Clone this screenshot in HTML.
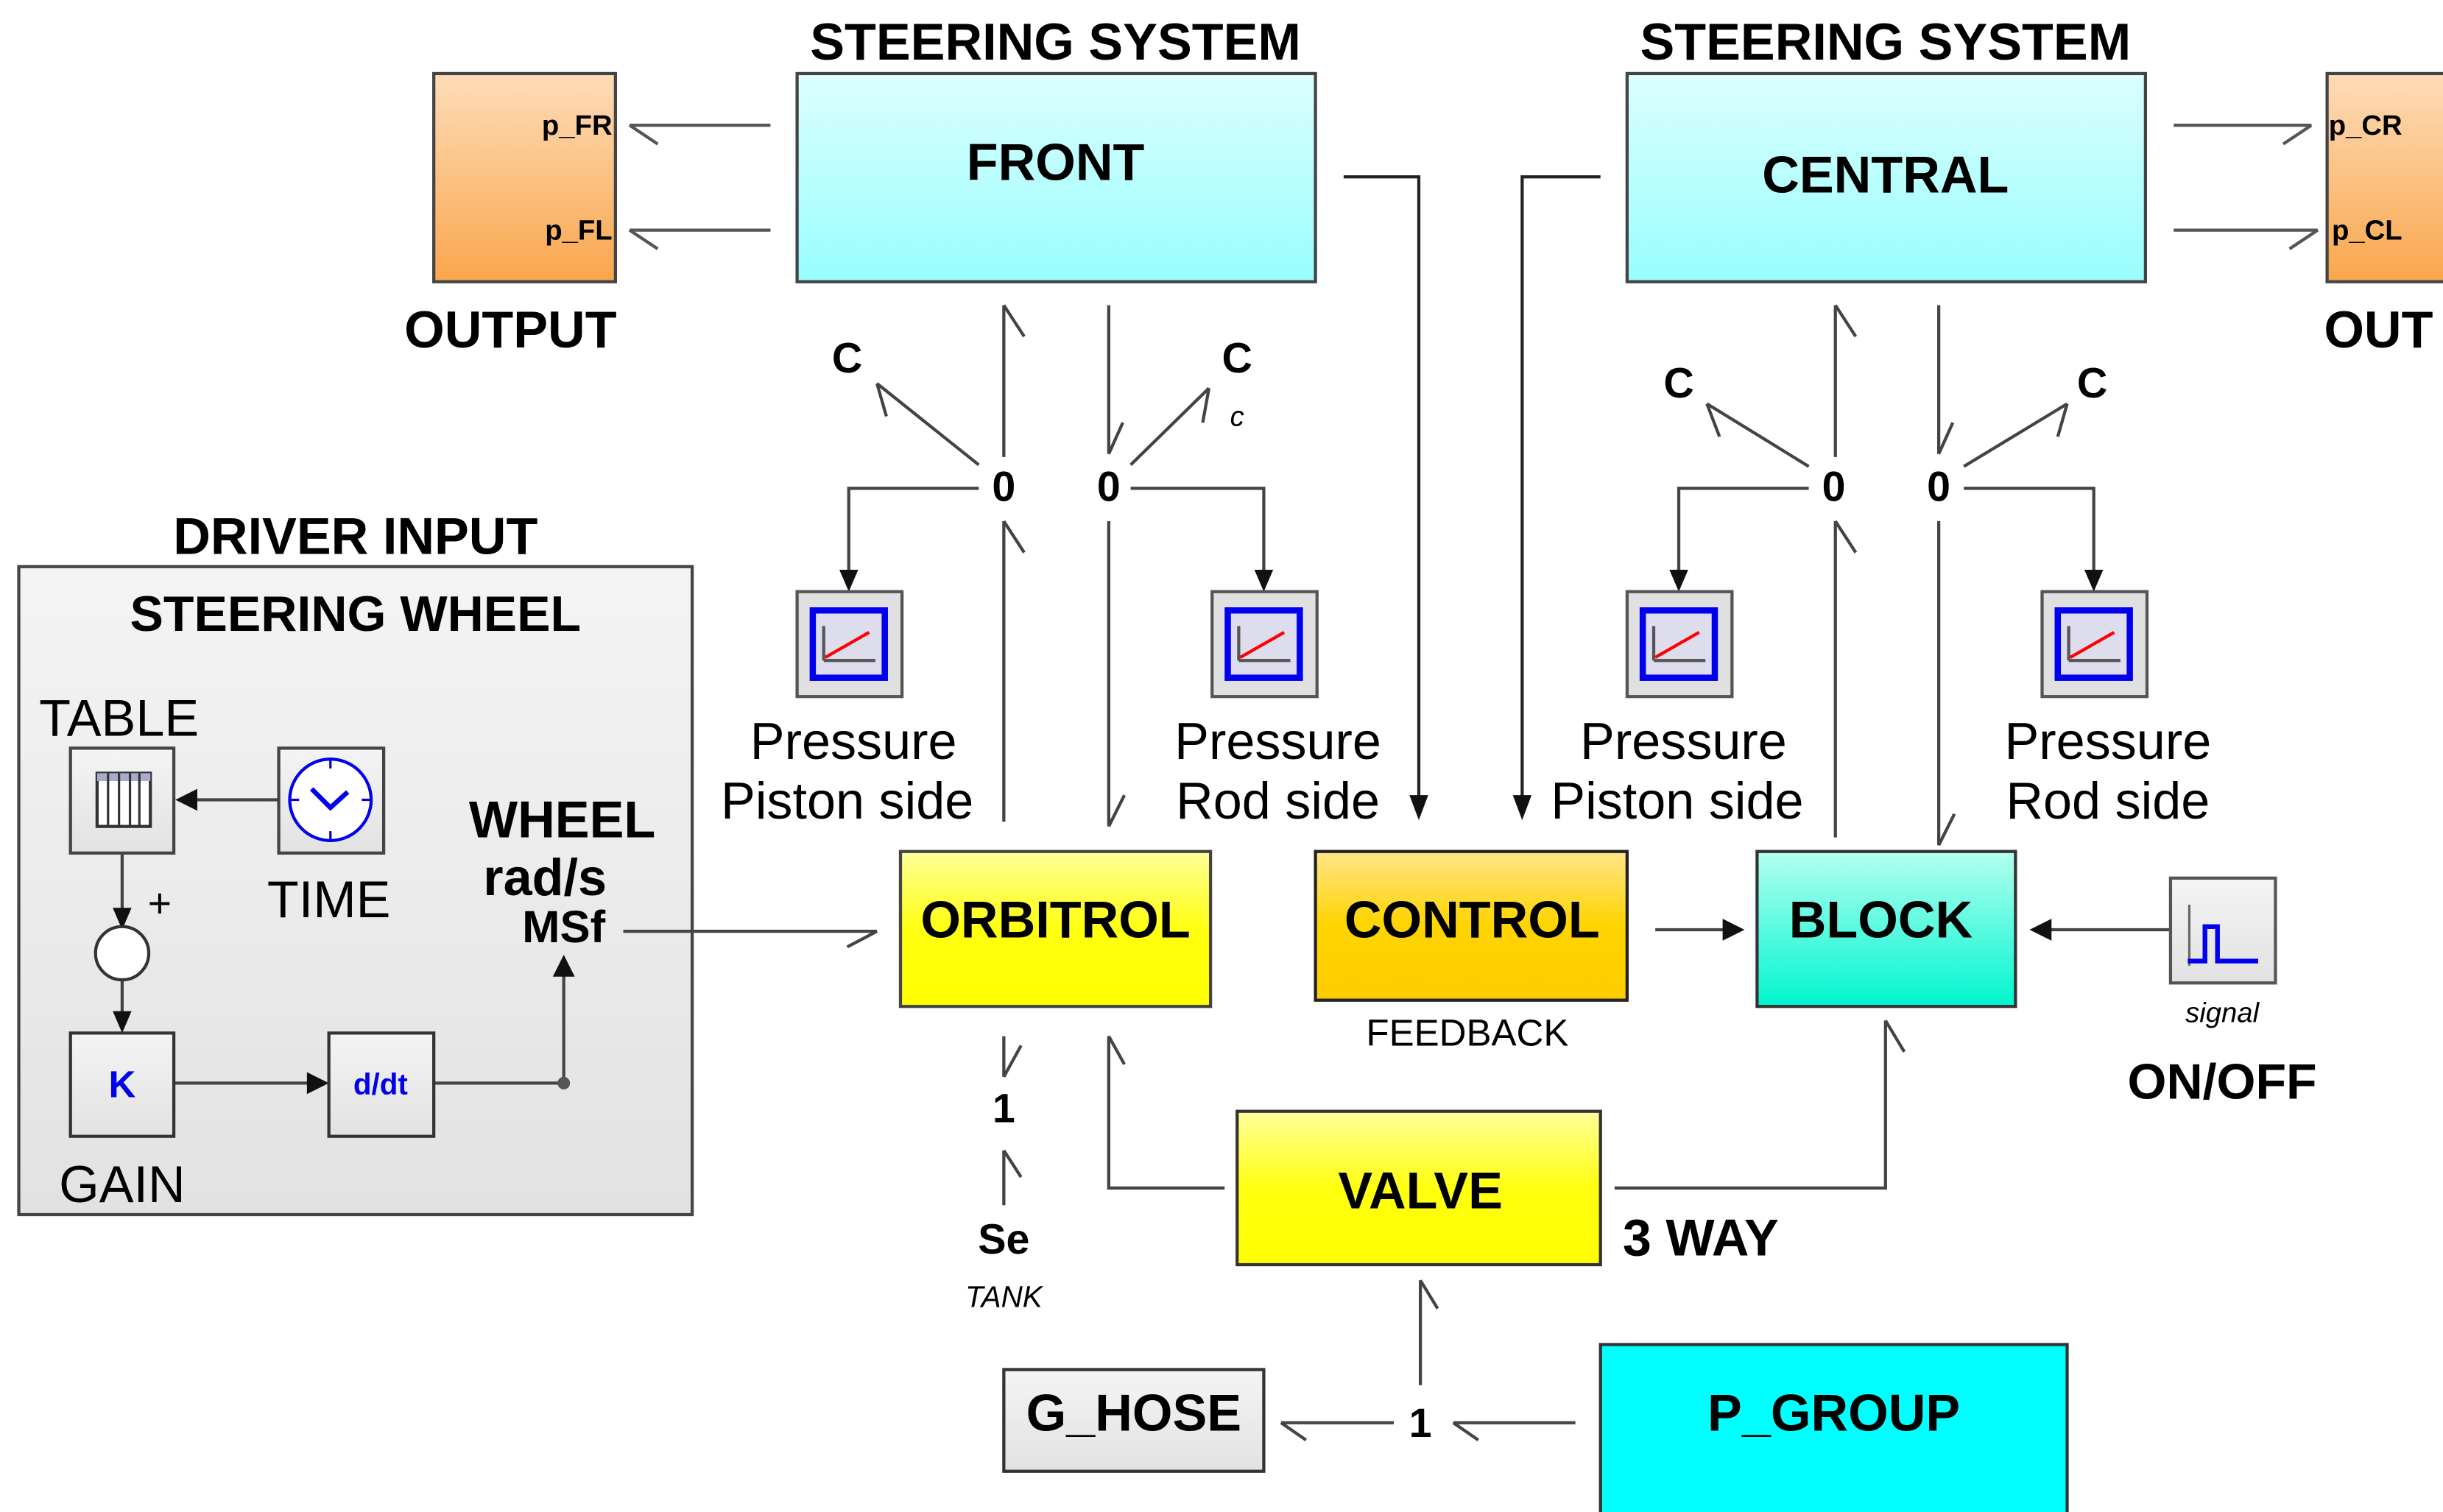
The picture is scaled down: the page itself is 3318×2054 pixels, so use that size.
<!DOCTYPE html>
<html><head><meta charset="utf-8"><style>
html,body{margin:0;padding:0;background:#fff;}
svg{display:block;}
text{font-family:"Liberation Sans",Arial,sans-serif;fill:#000;}
.b{font-weight:bold;}
</style></head><body>
<svg width="3318" height="2054" viewBox="0 0 1560 966" preserveAspectRatio="none" xmlns="http://www.w3.org/2000/svg">
<defs>
<linearGradient id="cy" x1="0" y1="0" x2="0" y2="1"><stop offset="0" stop-color="#dcffff"/><stop offset="1" stop-color="#98fdfd"/></linearGradient>
<linearGradient id="or" x1="0" y1="0" x2="0" y2="1"><stop offset="0" stop-color="#fddcb8"/><stop offset="1" stop-color="#f9a64c"/></linearGradient>
<linearGradient id="ye" x1="0" y1="0" x2="0" y2="1"><stop offset="0" stop-color="#ffff9a"/><stop offset="0.5" stop-color="#ffff10"/><stop offset="1" stop-color="#ffff00"/></linearGradient>
<linearGradient id="go" x1="0" y1="0" x2="0" y2="1"><stop offset="0" stop-color="#ffe58a"/><stop offset="0.5" stop-color="#ffd400"/><stop offset="1" stop-color="#ffcc00"/></linearGradient>
<linearGradient id="te" x1="0" y1="0" x2="0" y2="1"><stop offset="0" stop-color="#b4fff0"/><stop offset="1" stop-color="#00f5cf"/></linearGradient>
<linearGradient id="gr" x1="0" y1="0" x2="0" y2="1"><stop offset="0" stop-color="#f4f4f4"/><stop offset="1" stop-color="#e2e2e2"/></linearGradient>
<g id="scope"><rect x="0" y="0" width="67" height="67" fill="#e0e0e0" stroke="#555" stroke-width="2"/><rect x="10" y="12" width="46" height="43" fill="#dde" stroke="#0000ee" stroke-width="4"/><line x1="17" y1="22" x2="17" y2="44" stroke="#555" stroke-width="2"/><line x1="17" y1="44" x2="50" y2="44" stroke="#555" stroke-width="2"/><line x1="18" y1="42" x2="46" y2="26" stroke="#f00" stroke-width="2"/></g>
</defs>

<g stroke="#555" stroke-width="2" fill="none">
<line x1="492" y1="80" x2="402" y2="80"/><line x1="402" y1="80" x2="420" y2="92"/>
<line x1="492" y1="147" x2="402" y2="147"/><line x1="402" y1="147" x2="420" y2="159"/>
<line x1="1388" y1="80" x2="1476" y2="80"/><line x1="1476" y1="80" x2="1458" y2="92"/>
<line x1="1388" y1="147" x2="1480" y2="147"/><line x1="1480" y1="147" x2="1462" y2="159"/>
</g>
<g stroke="#222" stroke-width="2" fill="none">
<polyline points="858,113 906,113 906,512"/>
<polyline points="1022,113 972,113 972,512"/>
</g>
<polygon points="900,508 912,508 906,524" fill="#111"/>
<polygon points="966,508 978,508 972,524" fill="#111"/>

<rect x="277" y="47" width="116" height="133" fill="url(#or)" stroke="#444" stroke-width="2"/>
<rect x="1486" y="47" width="80" height="133" fill="url(#or)" stroke="#444" stroke-width="2"/>
<rect x="509" y="47" width="331" height="133" fill="url(#cy)" stroke="#444" stroke-width="2"/>
<rect x="1039" y="47" width="331" height="133" fill="url(#cy)" stroke="#444" stroke-width="2"/>
<text x="674" y="38" font-size="33" class="b" text-anchor="middle">STEERING SYSTEM</text>
<text x="1204" y="38" font-size="33" class="b" text-anchor="middle">STEERING SYSTEM</text>
<text x="674" y="115" font-size="33" class="b" text-anchor="middle">FRONT</text>
<text x="1204" y="123" font-size="33" class="b" text-anchor="middle">CENTRAL</text>
<text x="391" y="86" font-size="18" class="b" text-anchor="end">p_FR</text>
<text x="391" y="153" font-size="18" class="b" text-anchor="end">p_FL</text>
<text x="1487" y="86" font-size="18" class="b">p_CR</text>
<text x="1489" y="153" font-size="18" class="b">p_CL</text>
<text x="326" y="222" font-size="33" class="b" text-anchor="middle">OUTPUT</text>
<text x="1484" y="222" font-size="33" class="b">OUT</text>

<g stroke="#444" stroke-width="2" fill="none">
<line x1="641" y1="195" x2="641" y2="292"/><line x1="641" y1="195" x2="654" y2="215"/>
<line x1="641" y1="333" x2="641" y2="525"/><line x1="641" y1="333" x2="654" y2="353"/>
<line x1="708" y1="195" x2="708" y2="290"/><line x1="708" y1="290" x2="717" y2="270"/>
<line x1="708" y1="333" x2="708" y2="528"/><line x1="708" y1="528" x2="718" y2="508"/>
<line x1="625" y1="297" x2="560" y2="245"/><line x1="560" y1="245" x2="566" y2="266"/>
<line x1="722" y1="297" x2="772" y2="248"/><line x1="772" y1="248" x2="768" y2="270"/>
<polyline points="625,312 542,312 542,366"/>
<polyline points="722,312 807,312 807,366"/>
<line x1="1172" y1="195" x2="1172" y2="292"/><line x1="1172" y1="195" x2="1185" y2="215"/>
<line x1="1172" y1="333" x2="1172" y2="535"/><line x1="1172" y1="333" x2="1185" y2="353"/>
<line x1="1238" y1="195" x2="1238" y2="290"/><line x1="1238" y1="290" x2="1247" y2="270"/>
<line x1="1238" y1="333" x2="1238" y2="540"/><line x1="1238" y1="540" x2="1248" y2="520"/>
<line x1="1155" y1="298" x2="1090" y2="258"/><line x1="1090" y1="258" x2="1098" y2="279"/>
<line x1="1254" y1="298" x2="1320" y2="258"/><line x1="1320" y1="258" x2="1314" y2="279"/>
<polyline points="1155,312 1072,312 1072,366"/>
<polyline points="1254,312 1337,312 1337,366"/>
</g>
<g fill="#111">
<polygon points="536,364 548,364 542,378"/><polygon points="801,364 813,364 807,378"/>
<polygon points="1066,364 1078,364 1072,378"/><polygon points="1331,364 1343,364 1337,378"/>
</g>
<g font-size="27" class="b" text-anchor="middle">
<text x="641" y="320" class="b">0</text><text x="708" y="320" class="b">0</text>
<text x="1171" y="320" class="b">0</text><text x="1238" y="320" class="b">0</text>
<text x="541" y="238" class="b">C</text><text x="790" y="238" class="b">C</text>
<text x="1072" y="254" class="b">C</text><text x="1336" y="254" class="b">C</text>
</g>
<text x="790" y="272" font-size="18" font-style="italic" text-anchor="middle">c</text>
<use href="#scope" x="509" y="378"/><use href="#scope" x="774" y="378"/>
<use href="#scope" x="1039" y="378"/><use href="#scope" x="1304" y="378"/>
<g font-size="33" text-anchor="middle">
<text x="545" y="485">Pressure</text><text x="541" y="523">Piston side</text>
<text x="816" y="485">Pressure</text><text x="816" y="523">Rod side</text>
<text x="1075" y="485">Pressure</text><text x="1071" y="523">Piston side</text>
<text x="1346" y="485">Pressure</text><text x="1346" y="523">Rod side</text>
</g>

<rect x="575" y="544" width="198" height="99" fill="url(#ye)" stroke="#444" stroke-width="2"/>
<rect x="840" y="544" width="199" height="95" fill="url(#go)" stroke="#222" stroke-width="2"/>
<rect x="1122" y="544" width="165" height="99" fill="url(#te)" stroke="#333" stroke-width="2"/>
<text x="674" y="599" font-size="33" class="b" text-anchor="middle">ORBITROL</text>
<text x="940" y="599" font-size="33" class="b" text-anchor="middle">CONTROL</text>
<text x="1201" y="599" font-size="33" class="b" text-anchor="middle">BLOCK</text>
<text x="937" y="668" font-size="24" text-anchor="middle">FEEDBACK</text>
<g stroke="#444" stroke-width="2" fill="none">
<line x1="1057" y1="594" x2="1104" y2="594"/>
<line x1="1386" y1="594" x2="1306" y2="594"/>
<line x1="641" y1="662" x2="641" y2="688"/><line x1="641" y1="688" x2="652" y2="668"/>
<line x1="641" y1="735" x2="641" y2="770"/><line x1="641" y1="735" x2="652" y2="752"/>
<polyline points="782,759 708,759 708,662"/><line x1="708" y1="662" x2="718" y2="680"/>
<polyline points="1031,759 1204,759 1204,652"/><line x1="1204" y1="652" x2="1216" y2="672"/>
<line x1="907" y1="885" x2="907" y2="818"/><line x1="907" y1="818" x2="918" y2="836"/>
<line x1="890" y1="909" x2="818" y2="909"/><line x1="818" y1="909" x2="834" y2="920"/>
<line x1="1006" y1="909" x2="928" y2="909"/><line x1="928" y1="909" x2="944" y2="920"/>
</g>
<polygon points="1100,587 1114,594 1100,601" fill="#111"/>
<polygon points="1310,587 1296,594 1310,601" fill="#111"/>
<rect x="1386" y="561" width="67" height="67" fill="url(#gr)" stroke="#555" stroke-width="2"/>
<line x1="1398" y1="578" x2="1398" y2="617" stroke="#666" stroke-width="1.5"/>
<polyline points="1397,614 1408,614 1408,592 1416,592 1416,614 1442,614" fill="none" stroke="#00e" stroke-width="3"/>
<text x="1419" y="653" font-size="18" font-style="italic" text-anchor="middle">signal</text>
<text x="1419" y="702" font-size="32" class="b" text-anchor="middle">ON/OFF</text>
<text x="641" y="717" font-size="26" class="b" text-anchor="middle">1</text>
<text x="641" y="801" font-size="27" class="b" text-anchor="middle">Se</text>
<text x="641" y="835" font-size="19" font-style="italic" text-anchor="middle">TANK</text>
<rect x="790" y="710" width="232" height="98" fill="url(#ye)" stroke="#333" stroke-width="2"/>
<text x="907" y="772" font-size="33" class="b" text-anchor="middle">VALVE</text>
<text x="1086" y="802" font-size="33" class="b" text-anchor="middle">3 WAY</text>
<text x="907" y="918" font-size="26" class="b" text-anchor="middle">1</text>
<rect x="641" y="875" width="166" height="65" fill="url(#gr)" stroke="#333" stroke-width="2"/>
<text x="724" y="914" font-size="33" class="b" text-anchor="middle">G_HOSE</text>
<rect x="1022" y="859" width="298" height="120" fill="#00ffff" stroke="#333" stroke-width="2"/>
<text x="1171" y="914" font-size="33" class="b" text-anchor="middle">P_GROUP</text>

<text x="227" y="354" font-size="33" class="b" text-anchor="middle">DRIVER INPUT</text>
<rect x="12" y="362" width="430" height="414" fill="url(#gr)" stroke="#444" stroke-width="2"/>
<text x="227" y="403" font-size="32" class="b" text-anchor="middle">STEERING WHEEL</text>
<text x="76" y="470" font-size="33" text-anchor="middle">TABLE</text>
<rect x="45" y="478" width="66" height="67" fill="url(#gr)" stroke="#444" stroke-width="2"/>
<rect x="62" y="494" width="34" height="34" fill="#fff" stroke="#333" stroke-width="2"/>
<rect x="62" y="494" width="34" height="5" fill="#aac"/>
<g stroke="#333" stroke-width="1.5"><line x1="69" y1="494" x2="69" y2="528"/><line x1="76" y1="494" x2="76" y2="528"/><line x1="83" y1="494" x2="83" y2="528"/><line x1="89" y1="494" x2="89" y2="528"/></g>
<rect x="178" y="478" width="67" height="67" fill="url(#gr)" stroke="#444" stroke-width="2"/>
<circle cx="211" cy="511" r="26" fill="#fff" stroke="#00e" stroke-width="2"/>
<polyline points="199,504 211,516 222,506" fill="none" stroke="#00e" stroke-width="3"/>
<g stroke="#00e" stroke-width="1.5"><line x1="211" y1="485" x2="211" y2="491"/><line x1="211" y1="531" x2="211" y2="537"/><line x1="185" y1="511" x2="191" y2="511"/><line x1="231" y1="511" x2="237" y2="511"/></g>
<text x="210" y="586" font-size="33" text-anchor="middle">TIME</text>
<g stroke="#444" stroke-width="2" fill="none">
<line x1="178" y1="511" x2="124" y2="511"/>
<line x1="78" y1="545" x2="78" y2="582"/>
<line x1="78" y1="626" x2="78" y2="650"/>
<line x1="111" y1="692" x2="198" y2="692"/>
<line x1="277" y1="692" x2="360" y2="692"/>
<line x1="360" y1="692" x2="360" y2="622"/>
<line x1="398" y1="595" x2="560" y2="595"/><line x1="560" y1="595" x2="541" y2="605"/>
</g>
<polygon points="126,504 112,511 126,518" fill="#111"/>
<polygon points="72,580 84,580 78,594" fill="#111"/>
<polygon points="72,646 84,646 78,660" fill="#111"/>
<polygon points="196,685 210,692 196,699" fill="#111"/>
<polygon points="353,624 367,624 360,610" fill="#111"/>
<circle cx="360" cy="692" r="4" fill="#555"/>
<text x="102" y="586" font-size="26" text-anchor="middle">+</text>
<circle cx="78" cy="609" r="17" fill="#fff" stroke="#333" stroke-width="2"/>
<rect x="45" y="660" width="66" height="66" fill="url(#gr)" stroke="#333" stroke-width="2"/>
<text x="78" y="701" font-size="24" class="b" text-anchor="middle" style="fill:#00e">K</text>
<rect x="210" y="660" width="67" height="66" fill="url(#gr)" stroke="#333" stroke-width="2"/>
<text x="243" y="699" font-size="19" class="b" text-anchor="middle" style="fill:#00e">d/dt</text>
<text x="78" y="768" font-size="33" text-anchor="middle">GAIN</text>
<text x="359" y="535" font-size="33" class="b" text-anchor="middle">WHEEL</text>
<text x="348" y="572" font-size="33" class="b" text-anchor="middle">rad/s</text>
<text x="360" y="602" font-size="29" class="b" text-anchor="middle">MSf</text>
</svg>
</body></html>
